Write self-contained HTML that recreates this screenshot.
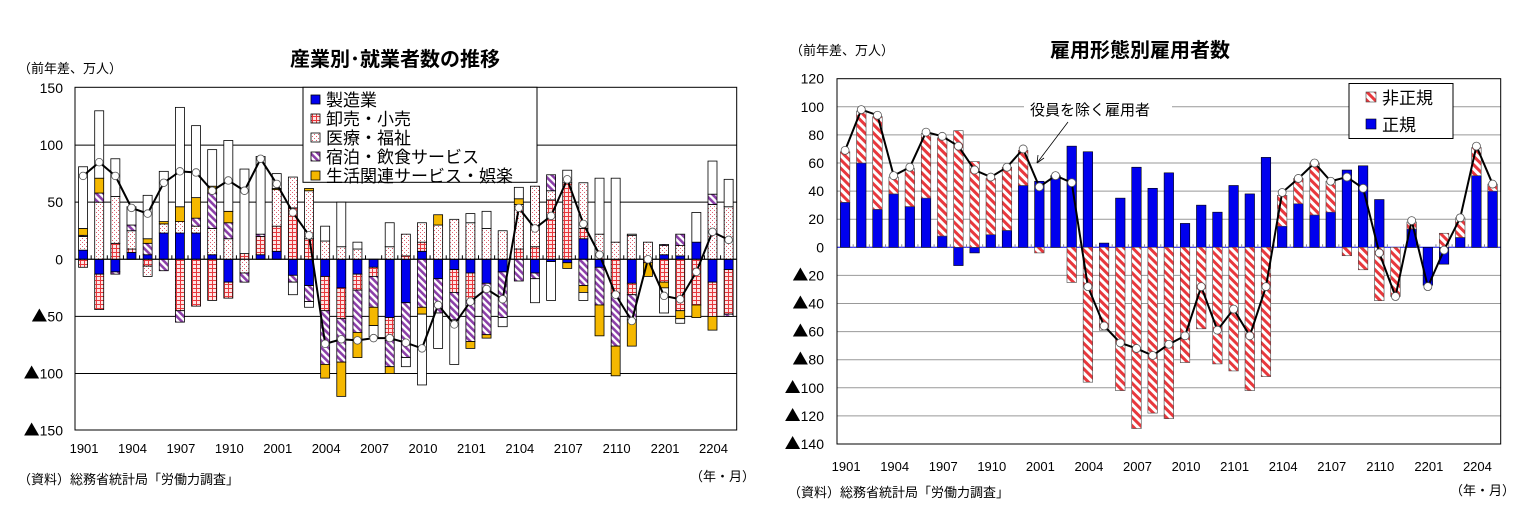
<!DOCTYPE html>
<html><head><meta charset="utf-8"><style>
html,body{margin:0;padding:0;background:#fff;}
svg{display:block;font-family:"Liberation Sans","Noto Sans CJK JP",sans-serif;}
</style></head><body>
<svg id="c" width="1526" height="532" viewBox="0 0 1526 532" xmlns="http://www.w3.org/2000/svg">
<defs>
<pattern id="pGrid" width="4" height="4" patternUnits="userSpaceOnUse"><rect width="4" height="4" fill="#fde4e4"/><path d="M0 0.5H4M0.5 0V4" stroke="#e8383d" stroke-width="1"/></pattern>
<pattern id="pDots" width="4" height="4" patternUnits="userSpaceOnUse"><rect width="4" height="4" fill="#fff"/><rect x="0" y="0" width="1" height="1" fill="#e06070"/><rect x="2" y="2" width="1" height="1" fill="#e06070"/></pattern>
<pattern id="pPurp" width="5" height="5" patternUnits="userSpaceOnUse" patternTransform="rotate(-45)"><rect width="5" height="5" fill="#fff"/><rect width="2.6" height="5" fill="#8b3fa8"/></pattern>
<pattern id="pRed" width="6" height="6" patternUnits="userSpaceOnUse" patternTransform="rotate(-45)"><rect width="6" height="6" fill="#fff"/><rect width="3" height="6" fill="#e8383d"/></pattern>
</defs>
<g id="L"></g><g id="R"></g>

<text x="18" y="73" font-size="13">（前年差、万人）</text>
<text x="395" y="66" font-size="20" font-weight="bold" text-anchor="middle">産業別･就業者数の推移</text>
<text x="18" y="484" font-size="13">（資料）総務省統計局「労働力調査」</text>
<text x="690" y="481" font-size="13">（年・月）</text>

<text x="790" y="55" font-size="13">（前年差、万人）</text>
<text x="1140" y="57" font-size="20" font-weight="bold" text-anchor="middle">雇用形態別雇用者数</text>
<text x="788" y="497" font-size="13">（資料）総務省統計局「労働力調査」</text>
<text x="1450" y="495" font-size="13">（年・月）</text>
</svg>
<script>
const cats=["1901","1902","1903","1904","1905","1906","1907","1908","1909","1910","1911","1912","2001","2002","2003","2004","2005","2006","2007","2008","2009","2010","2011","2012","2101","2102","2103","2104","2105","2106","2107","2108","2109","2110","2111","2112","2201","2202","2203","2204","2205"];
const mfg=[8,-13,-11,6,4,23,23,23,4,-20,0,4,7,-14,-23,-15,-25,-13,-7,-51,-38,7,-17,-9,-12,-21,-11,0,-12,-2,-3,18,-7,0,-21,0,4,3,15,-20,-9];
const wholesale=[-7,-31,14,3,-6,0,-45,-41,-36,-14,5,16,22,45,18,-30,-27,-14,-8,-20,3,8,0,-20,-24,0,0,9,11,52,67,9,0,-30,-10,-3,-20,-45,-40,-30,-39];
const medical=[12,50,41,16,-9,8,10,6,23,18,-12,0,32,27,42,16,11,9,0,11,19,17,30,35,32,27,25,39,53,8,0,40,22,15,21,15,8,9,0,48,46];
const hospitality=[1,8,-2,5,10,-10,-10,7,31,14,-8,2,0,-6,-14,-47,-38,-37,-27,-23,-48,-42,-30,-24,-36,-45,-40,-19,-5,14,0,-23,-33,-46,-22,0,1,10,0,9,-2];
const living=[6,13,0,0,4,2,13,18,6,10,0,0,1,0,2,-12,-30,-22,-16,-6,0,-6,9,0,-6,-3,0,5,0,0,-5,-6,-27,-26,-23,-12,-5,-7,-11,-12,0];
const other=[54,59,33,16,38,44,87,63,32,62,74,68,13,-11,-5,13,39,6,-10,21,-8,-62,-31,-39,8,15,-8,10,-21,-34,11,-7,49,56,1,0,-22,-4,26,29,24];
const totalL=[73,85,73,45,40,67,77,76,60,69,60,88,66,41,21,-74,-70,-71,-69,-69,-73,-78,-40,-57,-37,-26,-35,45,27,38,70,31,4,-31,-54,0,-32,-35,-11,24,17];
const ticksL=[150,100,50,0,-50,-100,-150];
const regular=[32,60,27,38,29,35,8,-13,-4,9,12,44,47,51,72,68,3,35,57,42,53,17,30,25,44,38,64,15,31,23,25,55,58,34,0,13,-27,-12,7,51,40];
const nonRegular=[36,37,66,12,27,46,70,83,61,40,45,25,-4,0,-25,-96,-59,-102,-129,-118,-122,-82,-58,-83,-88,-102,-92,22,18,37,22,-6,-16,-38,-35,5,0,10,14,20,5];
const totalR=[69,98,94,51,57,82,79,72,55,50,57,70,43,51,46,-28,-56,-68,-72,-77,-69,-63,-28,-59,-44,-63,-28,39,49,60,47,50,42,-4,-35,19,-28,-2,21,72,45];
const ticksR=[120,100,80,60,40,20,0,-20,-40,-60,-80,-100,-120,-140];

const NS="http://www.w3.org/2000/svg";
function mk(p,t,a,txt){const e=document.createElementNS(NS,t);for(const k in a)e.setAttribute(k,a[k]);if(txt!==undefined)e.textContent=txt;p.appendChild(e);return e;}
function tickLabel(p,x,y,v,name){
  const t=mk(p,'text',{x:x,y:y,'font-size':14,'text-anchor':'end'});
  
  
  if(v<0){mk(t,'tspan',{'font-size':16,'font-family':'"Noto Sans CJK JP",sans-serif'},'▲');mk(t,'tspan',{},String(-v));}
  else t.textContent=String(v);
}

// LEFT
const L=document.getElementById('L');
const lx0=75,lx1=736.7,ly0=87.3,ly1=430;
const lyS=v=>259.3-v*(ly1-ly0)/300;
const lxS=i=>lx0+(i+0.5)*(lx1-lx0)/cats.length;
const lBw=9;
ticksL.forEach(t=>{
  if(t!==150&&t!==-150){const g=mk(L,'line',{x1:lx0,x2:lx1,y1:lyS(t),y2:lyS(t),stroke:'#000','stroke-width':1});
  
  }
  tickLabel(L,63,lyS(t)+5,t,'left-y-tick-label');
});
const sL=[[mfg,'#0000ee','manufacturing'],[wholesale,'url(#pGrid)','wholesale-retail'],[medical,'url(#pDots)','medical-welfare'],[hospitality,'url(#pPurp)','accommodation-food'],[living,'#f5b800','living-services'],[other,'#fff','other']];
cats.forEach((c,i)=>{
  let p=0,n=0;
  sL.forEach(([arr,fill,name])=>{
    const v=arr[i];if(!v)return;
    let a,b;if(v>0){a=p;b=p+v;p=b;}else{a=n;b=n+v;n=b;}
    const r=mk(L,'rect',{x:lxS(i)-lBw/2,y:Math.min(lyS(a),lyS(b)),width:lBw,height:Math.abs(lyS(a)-lyS(b)),fill:fill,stroke:'#000','stroke-width':0.8});
    
    
  });
  if(i%3===0){const t=mk(L,'text',{x:lxS(i)+1,y:453,'font-size':13,'text-anchor':'middle'},c);
  
  }
  if(i>0){mk(L,'line',{x1:lxS(i)-8.05,x2:lxS(i)-8.05,y1:lyS(0),y2:lyS(0)-4,stroke:'#000'});}
});
mk(L,'line',{x1:lx0,x2:lx1,y1:lyS(0),y2:lyS(0),stroke:'#000','stroke-width':1});
const plL=mk(L,'polyline',{points:totalL.map((v,i)=>lxS(i)+','+lyS(v)).join(' '),fill:'none',stroke:'#000','stroke-width':2});


totalL.forEach((v,i)=>{const m=mk(L,'circle',{cx:lxS(i),cy:lyS(v),r:3.8,fill:'#fff',stroke:'#555','stroke-width':0.8});

});
const fr=mk(L,'rect',{x:lx0,y:ly0,width:lx1-lx0,height:ly1-ly0,fill:'none',stroke:'#000','stroke-width':1});


// legend
const lg=mk(L,'g',{});


mk(lg,'rect',{x:303,y:87.3,width:234,height:95,fill:'#fff',stroke:'#000','stroke-width':1});
const lgItems=[['#0000ee','製造業'],['url(#pGrid)','卸売・小売'],['url(#pDots)','医療・福祉'],['url(#pPurp)','宿泊・飲食サービス'],['#f5b800','生活関連サービス・娯楽']];
lgItems.forEach(([f,t],k)=>{
  const y=100+k*19;
  mk(lg,'rect',{x:311,y:y-5,width:9,height:9,fill:f,stroke:'#000','stroke-width':0.8});
  const tx=mk(lg,'text',{x:326,y:y+6,'font-size':17},t);
  
  
});

// RIGHT
const R=document.getElementById('R');
const rx0=837,rx1=1500.7,ry0=78.7,ry1=444;
const ryS=v=>247.3-v*(ry1-ry0)/260;
const rxS=i=>rx0+(i+0.5)*(rx1-rx0)/cats.length;
const rBw=9.5;
ticksR.forEach(t=>{
  if(t!==120&&t!==-140){const g=mk(R,'line',{x1:rx0,x2:rx1,y1:ryS(t),y2:ryS(t),stroke:t===0?'#0000ee':'#999','stroke-width':1});
  
  }
  tickLabel(R,824,ryS(t)+5,t,'right-y-tick-label');
});
const sR=[[regular,'#0000ee','regular'],[nonRegular,'url(#pRed)','non-regular']];
cats.forEach((c,i)=>{
  let p=0,n=0;
  sR.forEach(([arr,fill,name])=>{
    const v=arr[i];if(!v)return;
    let a,b;if(v>0){a=p;b=p+v;p=b;}else{a=n;b=n+v;n=b;}
    const r=mk(R,'rect',{x:rxS(i)-rBw/2,y:Math.min(ryS(a),ryS(b)),width:rBw,height:Math.abs(ryS(a)-ryS(b)),fill:fill,stroke:name==='regular'?'#000':'#444','stroke-width':0.6});
    
    
  });
  if(i%3===0){const t=mk(R,'text',{x:rxS(i)+1,y:471,'font-size':13,'text-anchor':'middle'},c);
  
  }
  if(i>0){mk(R,'line',{x1:rxS(i)-8.1,x2:rxS(i)-8.1,y1:ryS(0),y2:ryS(0)-3,stroke:'#888'});}
});
const plR=mk(R,'polyline',{points:totalR.map((v,i)=>rxS(i)+','+ryS(v)).join(' '),fill:'none',stroke:'#000','stroke-width':2});


totalR.forEach((v,i)=>{const m=mk(R,'circle',{cx:rxS(i),cy:ryS(v),r:4,fill:'#fff',stroke:'#555','stroke-width':0.8});

});
const fr2=mk(R,'rect',{x:rx0,y:ry0,width:rx1-rx0,height:ry1-ry0,fill:'none',stroke:'#000','stroke-width':1});


// annotation
mk(R,'rect',{x:1024,y:97,width:148,height:22,fill:'#fff'});
const an=mk(R,'text',{x:1030,y:115,'font-size':15},'役員を除く雇用者');


mk(R,'line',{x1:1068,x2:1037,y1:122,y2:163,stroke:'#000','stroke-width':0.8});
mk(R,'path',{d:'M1037 163 L1038 155 M1037 163 L1044 158',stroke:'#000','stroke-width':0.8,fill:'none'});
// legend
const lg2=mk(R,'g',{});


mk(lg2,'rect',{x:1349,y:83.5,width:104,height:55,fill:'#fff',stroke:'#000','stroke-width':1});
mk(lg2,'rect',{x:1366,y:92,width:10,height:10,fill:'url(#pRed)',stroke:'#444','stroke-width':0.6});
const t1=mk(lg2,'text',{x:1382,y:104,'font-size':17},'非正規');


mk(lg2,'rect',{x:1366,y:119,width:10,height:10,fill:'#0000ee',stroke:'#000','stroke-width':0.6});
const t2=mk(lg2,'text',{x:1382,y:131,'font-size':17},'正規');


</script>
</body></html>
